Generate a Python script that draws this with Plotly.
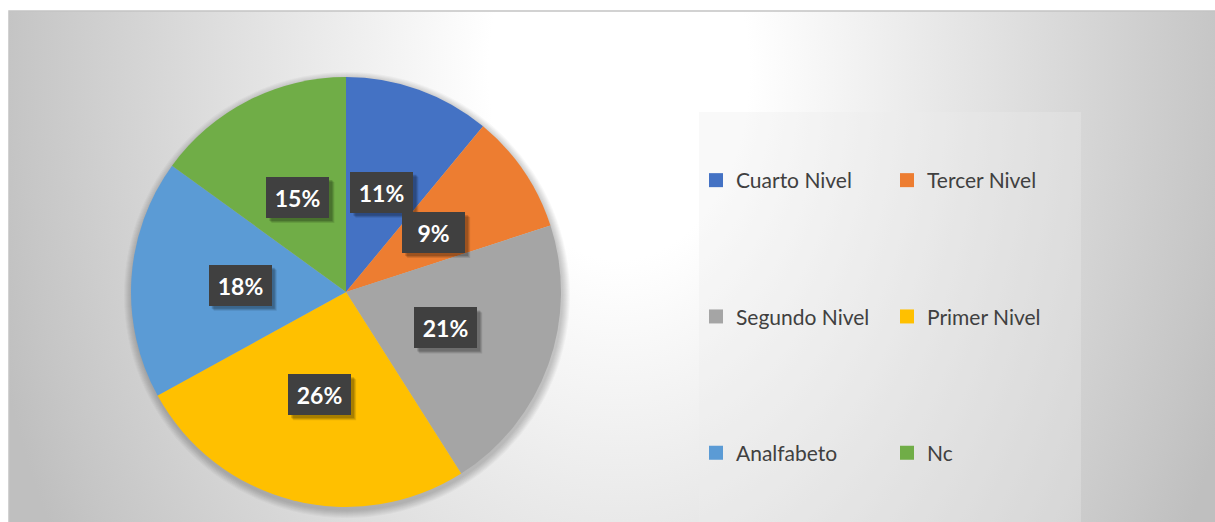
import base64
import math
import plotly.graph_objects as go

# ---- data ----
categories = ["Cuarto Nivel", "Tercer Nivel", "Segundo Nivel", "Primer Nivel", "Analfabeto", "Nc"]
values = [11, 9, 21, 26, 18, 15]
colors = ["#4472C4", "#ED7D31", "#A5A5A5", "#FFC000", "#5B9BD5", "#70AD47"]
legend_col = [1, 2, 1, 2, 1, 2]

W, H = 1215, 522


def px(x):
    return x / W


def py(y):
    return 1 - y / H


# pie geometry (pixels)
CX, CY, R = 346, 292, 215
LABEL_R = 106
BOX_W, BOX_H = 63, 41

# background gradient as svg image
bw, bh = W - 9, H - 11
svg = f'''<svg xmlns="http://www.w3.org/2000/svg" width="{bw}" height="{bh}" viewBox="0 0 {bw} {bh}" preserveAspectRatio="none">
<defs><radialGradient id="g" gradientUnits="userSpaceOnUse" cx="610" cy="60" r="650"
 gradientTransform="translate(610 60) scale(1 1.45) translate(-610 -60)">
<stop offset="0.2" stop-color="#ffffff"/><stop offset="0.92" stop-color="#c6c6c6"/><stop offset="1" stop-color="#bfbfbf"/>
</radialGradient></defs><rect width="{bw}" height="{bh}" fill="url(#g)"/></svg>'''
svg_uri = "data:image/svg+xml;base64," + base64.b64encode(svg.encode()).decode()

fig = go.Figure()

fig.add_trace(go.Pie(
    labels=categories,
    values=values,
    marker=dict(colors=colors, line=dict(width=0)),
    sort=False,
    direction="clockwise",
    rotation=0,
    textinfo="none",
    hoverinfo="label+percent",
    showlegend=False,
    domain=dict(x=[px(CX - R), px(CX + R)], y=[py(CY + R), py(CY - R)]),
))

# legend entries (dummy traces so the legend can be laid out in 2 columns)
for cat, col, lc in zip(categories, colors, legend_col):
    fig.add_trace(go.Scatter(
        x=[None], y=[None], mode="markers", name=cat,
        marker=dict(symbol="square", size=14, color=col),
        legend="legend" if lc == 1 else "legend2",
        legendgroup=cat, hoverinfo="skip",
    ))

shapes = []
# outer frame
shapes.append(dict(type="rect", xref="paper", yref="paper", x0=px(9), x1=px(W + 2), y0=py(H + 2), y1=py(11),
                   line=dict(color="#c4c4c4", width=1.5), fillcolor="rgba(0,0,0,0)", layer="above"))
# pie soft shadow
for k in range(1, 9):
    rr = R + k
    shapes.append(dict(type="circle", xref="paper", yref="paper",
                       x0=px(CX + 1 - rr), x1=px(CX + 1 + rr), y0=py(CY + 3 + rr), y1=py(CY + 3 - rr),
                       line=dict(width=0), fillcolor="rgba(0,0,0,0.028)", layer="below"))
# legend box
shapes.append(dict(type="rect", xref="paper", yref="paper", x0=px(699), x1=px(1081), y0=py(H + 2), y1=py(112),
                   line=dict(width=0), fillcolor="rgba(236,236,236,0.32)", layer="below"))

# percentage labels
annotations = []
total = sum(values)
cum = 0
for v in values:
    mid = (cum + v / 2) / total * 2 * math.pi
    cum += v
    lx = CX + LABEL_R * math.sin(mid)
    ly = CY - LABEL_R * math.cos(mid)
    txt = f"{round(v / total * 100)}%"
    # soft drop shadow behind each label box
    for sh, op in [(5, 0.10), (4, 0.12), (3, 0.16)]:
        shapes.append(dict(type="rect", xref="paper", yref="paper",
                           x0=px(lx - BOX_W / 2 + sh), x1=px(lx + BOX_W / 2 + sh),
                           y0=py(ly + BOX_H / 2 + sh), y1=py(ly - BOX_H / 2 + sh),
                           line=dict(width=0), fillcolor=f"rgba(0,0,0,{op})", layer="above"))
    annotations.append(dict(x=px(lx), y=py(ly), xref="paper", yref="paper", showarrow=False,
                            xanchor="center", yanchor="middle",
                            text=f"<b>{txt}</b>", font=dict(family="Lato", size=23, color="#ffffff"),
                            bgcolor="#404040", borderwidth=0, borderpad=6,
                            width=BOX_W - 12, height=BOX_H - 12))

legend_common = dict(orientation="v", bgcolor="rgba(0,0,0,0)", borderwidth=0,
                     font=dict(family="Lato", size=21, color="#404040"),
                     tracegroupgap=106, xanchor="left", yanchor="top", itemclick=False, itemdoubleclick=False)

fig.update_layout(
    width=W, height=H,
    margin=dict(l=0, r=0, t=0, b=0),
    paper_bgcolor="#ffffff",
    plot_bgcolor="rgba(0,0,0,0)",
    xaxis=dict(visible=False),
    yaxis=dict(visible=False),
    images=[dict(source=svg_uri, xref="paper", yref="paper", x=px(9), y=py(11), sizex=px(bw), sizey=bh / H,
                 xanchor="left", yanchor="top", sizing="stretch", layer="below")],
    shapes=shapes,
    annotations=annotations,
    legend=dict(x=px(696), y=py(160), **legend_common),
    legend2=dict(x=px(887), y=py(160), **legend_common),
)

fig.write_html("out.html", config={"displayModeBar": False},
               post_script="document.body.style.margin='0';")
